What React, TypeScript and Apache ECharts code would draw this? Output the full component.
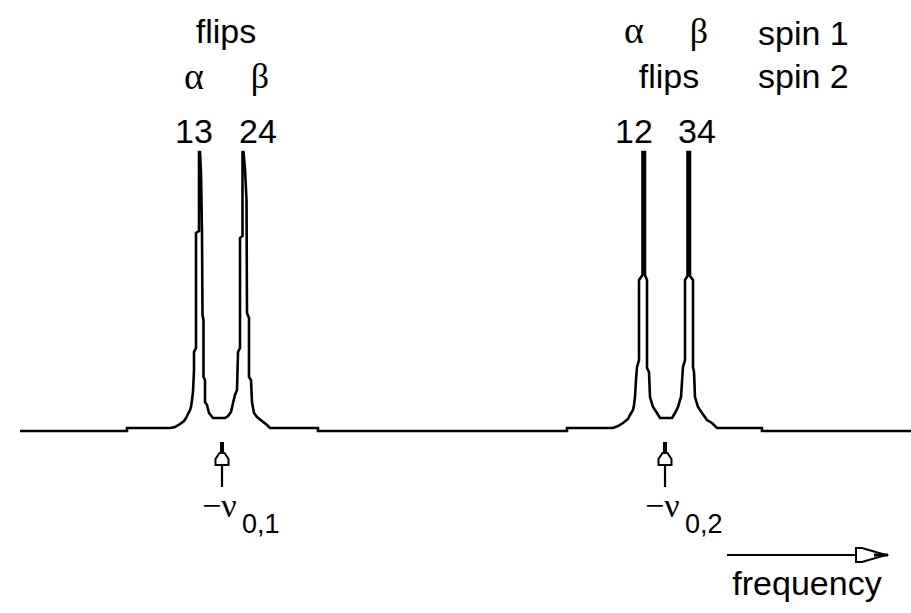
import React, { useEffect, useRef } from "react";
import * as echarts from "echarts";

// Spectrum trace: frequency (px units along the axis) and intensity above baseline
const freq = [
  20, 127, 127, 170, 175, 180, 184, 186, 188, 190, 191, 192, 193, 194, 194, 196, 196, 199, 199, 200,
  201, 202, 202.5, 203.5, 203.5, 205, 205, 207, 209, 213, 225, 228, 231, 233, 235, 237, 238, 240, 240, 242.5,
  242.5, 243.5, 245, 246.5, 247, 249, 249, 251, 252, 254, 257, 262, 267, 270, 318, 318, 567, 567, 613, 618,
  623, 628, 630, 633, 634, 635, 636, 637, 639, 639, 642.5, 642.5, 645, 645, 647, 647, 649, 650, 653, 657,
  660, 672, 675, 678, 680, 681, 683, 685, 685, 687.5, 687.5, 690, 690, 693, 693, 694, 695, 698, 702, 707,
  712, 717, 762, 762, 911,
];
const intensity = [
  0, 0, 3, 3, 4, 7, 10, 13, 17, 21, 24, 31, 39, 61, 79, 83, 198, 200, 279, 279,
  259, 198, 116, 111, 54, 51, 29, 26, 18, 13, 13, 15, 19, 28, 36, 41, 79, 83, 193, 195,
  279, 279, 262, 231, 118, 113, 54, 51, 29, 18, 14, 10, 6, 3, 3, 0, 0, 3, 3, 5,
  8, 12, 16, 21, 26, 34, 51, 64, 71, 151, 156, 279, 279, 156, 151, 63, 59, 34, 24, 18,
  13, 13, 18, 24, 31, 34, 64, 71, 151, 155, 279, 279, 155, 151, 64, 59, 34, 24, 18, 11,
  8, 3, 3, 0, 0,
];

// Peak labels
const peakLabels = ["13", "24", "12", "34"];
const peakLabelX = [194, 258, 634, 697];
// Chemical-shift markers
const shiftX = [222, 665];
const shiftSub = ["0,1", "0,2"];

const SANS = '"Liberation Sans", Arial, sans-serif';
const SERIF = '"Liberation Serif", "DejaVu Serif", serif';

function txt(text: string, x: number, y: number, size: number, family: string, align: string = "center") {
  return {
    type: "text",
    x,
    y,
    silent: true,
    style: {
      text,
      font: `${size}px ${family}`,
      fill: "#000",
      align,
      verticalAlign: "middle",
      textAlign: align,
      textVerticalAlign: "middle",
    },
  };
}

function upArrow(x: number) {
  return [
    { type: "rect", shape: { x: x - 2, y: 442, width: 4, height: 11 }, style: { fill: "#000" }, silent: true },
    {
      type: "polygon",
      shape: { points: [[x - 2.5, 453], [x + 2.5, 453], [x + 6.5, 459], [x + 6.5, 465], [x - 6.5, 465], [x - 6.5, 459]] },
      style: { fill: "#fff", stroke: "#000", lineWidth: 2 },
      silent: true,
    },
    { type: "line", shape: { x1: x, y1: 465, x2: x, y2: 487 }, style: { stroke: "#000", lineWidth: 2.2 }, silent: true },
  ];
}

export default function App() {
  const ref = useRef<HTMLDivElement>(null);
  useEffect(() => {
    if (!ref.current) return;
    const chart = echarts.init(ref.current, null, { renderer: "svg" });
    const data = freq.map((f, i) => [f, intensity[i]]);
    const graphics: any[] = [];
    graphics.push(txt("flips", 226, 31, 34, SANS));
    graphics.push(txt("α", 194, 76, 38, SERIF));
    graphics.push(txt("β", 260, 76, 36, SERIF));
    graphics.push(txt("α", 634, 30, 38, SERIF));
    graphics.push(txt("β", 699, 31, 36, SERIF));
    graphics.push(txt("spin 1", 758, 33, 34, SANS, "left"));
    graphics.push(txt("flips", 669, 76, 34, SANS));
    graphics.push(txt("spin 2", 758, 76, 34, SANS, "left"));
    peakLabels.forEach((l, i) => graphics.push(txt(l, peakLabelX[i], 131, 34, SANS)));
    shiftX.forEach((x, i) => {
      graphics.push(...upArrow(x));
      graphics.push(txt("−ν", x - 20, 505, 34, SERIF, "left"));
      graphics.push(txt(shiftSub[i], x + 20, 524, 27, SANS, "left"));
    });
    // frequency arrow
    graphics.push({ type: "line", shape: { x1: 727, y1: 555, x2: 857, y2: 555 }, style: { stroke: "#000", lineWidth: 2.2 }, silent: true });
    graphics.push({
      type: "polygon",
      shape: { points: [[856, 548], [862, 548], [886, 555], [862, 562], [856, 562]] },
      style: { fill: "#fff", stroke: "#000", lineWidth: 2 },
      silent: true,
    });
    graphics.push({ type: "line", shape: { x1: 874, y1: 555, x2: 888, y2: 555 }, style: { stroke: "#000", lineWidth: 3 }, silent: true });
    graphics.push(txt("frequency", 807, 583, 34, SANS));

    chart.setOption({
      animation: false,
      backgroundColor: "#fff",
      grid: { left: 0, right: 0, top: 0, bottom: 0 },
      xAxis: { type: "value", min: 0, max: 911, show: false },
      yAxis: { type: "value", min: -182, max: 431, show: false },
      series: [
        {
          type: "line",
          data,
          showSymbol: false,
          silent: true,
          lineStyle: { color: "#000", width: 2.6, join: "miter" },
        },
      ],
      graphic: graphics,
    });
    return () => chart.dispose();
  }, []);
  return <div ref={ref} style={{ position: "absolute", left: 0, top: 0, width: 911, height: 613 }} />;
}
